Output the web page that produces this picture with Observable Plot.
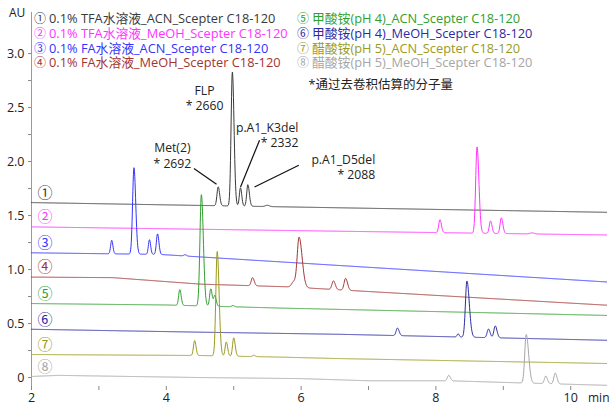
<!DOCTYPE html>
<html>
<head>
<meta charset="utf-8">
<script src="https://cdn.jsdelivr.net/npm/d3@7"></script>
<script src="https://cdn.jsdelivr.net/npm/@observablehq/plot@0.6"></script>
<style>
  html, body { margin: 0; padding: 0; background: #fff; }
  #wrap { position: relative; width: 611px; height: 408px; font-family: "Open Sans", "Noto Sans CJK SC", sans-serif; color: #222; }
  #wrap svg { position: absolute; left: 0; top: 0; }
  .lg { position: absolute; font-size: 12.8px; line-height: 14px; white-space: nowrap; }
  .lg .c { font-family: "Noto Sans CJK SC", sans-serif; font-size: 12px; line-height: 14px; margin-right: 3px; }
  .ax { position: absolute; font-size: 12px; line-height: 14px; white-space: nowrap; color: #222; }
</style>
</head>
<body>
<div id="wrap"></div>
<script>
// Eight UV chromatograms (AU vs. retention time, min), stacked with offsets.
const traceIds = [1, 2, 3, 4, 5, 6, 7, 8];
const traceMarks = ["①", "②", "③", "④", "⑤", "⑥", "⑦", "⑧"];
const traceNames = [
  "0.1% TFA水溶液_ACN_Scepter C18-120",
  "0.1% TFA水溶液_MeOH_Scepter C18-120",
  "0.1% FA水溶液_ACN_Scepter C18-120",
  "0.1% FA水溶液_MeOH_Scepter C18-120",
  "甲酸铵(pH 4)_ACN_Scepter C18-120",
  "甲酸铵(pH 4)_MeOH_Scepter C18-120",
  "醋酸铵(pH 5)_ACN_Scepter C18-120",
  "醋酸铵(pH 5)_MeOH_Scepter C18-120"
];
const traceColors = ["#3a3a3a", "#ff33ff", "#3333ff", "#a33333", "#2f9f2f", "#2b2ba3", "#9a9a1e", "#a6a6a6"];

// Baseline level (AU) at given retention times for each trace.
const baselineTimes = [
  [2, 10.53],
  [2, 10.53],
  [2, 3.9, 10.53],
  [2, 3.2, 4.5, 5.8, 6.9, 10.53],
  [2, 4.0, 5.7, 10.53],
  [2, 4.5, 6.6, 10.53],
  [2, 4.5, 5.7, 6.6, 10.53],
  [2, 2.4, 4.5, 6.0, 7.0, 8.2, 9.0, 10.53]
];
const baselineLevels = [
  [1.62, 1.53],
  [1.395, 1.32],
  [1.155, 1.14, 0.885],
  [0.93, 0.925, 0.865, 0.84, 0.80, 0.67],
  [0.685, 0.672, 0.643, 0.575],
  [0.447, 0.42, 0.40, 0.345],
  [0.213, 0.204, 0.189, 0.175, 0.13],
  [0.01, 0.02, 0.0, -0.01, -0.03, -0.03, -0.045, -0.072]
];

// Peak tables: retention time (min), height (AU), width (min), tailing factor.
const peakTimes = [
  [4.77, 4.98, 5.10, 5.21, 5.50],
  [8.06, 8.61, 8.81, 8.97, 9.43],
  [3.19, 3.52, 3.75, 3.87, 4.28],
  [5.28, 5.89, 5.97, 6.48, 6.66],
  [4.20, 4.52, 4.66, 4.72, 4.99],
  [7.43, 8.33, 8.46, 8.78, 8.88],
  [4.42, 4.755, 4.89, 5.00, 5.30],
  [8.19, 9.34, 9.63, 9.77]
];
const peakHeights = [
  [0.175, 1.24, 0.17, 0.20, 0.012],
  [0.12, 0.80, 0.115, 0.145, 0.01],
  [0.125, 0.80, 0.135, 0.19, 0.012],
  [0.075, 0.05, 0.465, 0.08, 0.11],
  [0.145, 1.03, 0.16, 0.10, 0.012],
  [0.07, 0.03, 0.52, 0.08, 0.11],
  [0.138, 0.967, 0.13, 0.17, 0.012],
  [0.05, 0.45, 0.07, 0.10]
];
const peakWidths = [
  [0.018, 0.019, 0.016, 0.017, 0.03],
  [0.018, 0.02, 0.018, 0.018, 0.03],
  [0.016, 0.02, 0.016, 0.017, 0.02],
  [0.02, 0.03, 0.028, 0.022, 0.022],
  [0.017, 0.021, 0.017, 0.017, 0.02],
  [0.02, 0.015, 0.022, 0.02, 0.02],
  [0.017, 0.02, 0.017, 0.017, 0.02],
  [0.02, 0.022, 0.02, 0.02]
];
const peakTailing = [
  [1.2, 1.3, 1.2, 1.3, 1],
  [1.2, 1.4, 1.2, 1.3, 1],
  [1.1, 1.3, 1.1, 1.2, 1],
  [1.2, 1, 1.6, 1.2, 1.3],
  [1.2, 1.4, 1.2, 1.2, 1],
  [1.2, 1, 1.6, 1.2, 1.3],
  [1.2, 1.4, 1.2, 1.3, 1],
  [1.2, 1.6, 1.2, 1.3]
];

// Peak annotations (molecular weight by deconvolution).
const annoText = ["Met(2)\n* 2692", "FLP\n* 2660", "p.A1_K3del\n* 2332", "p.A1_D5del\n* 2088"];
const annoX = [4.09, 4.567, 5.96, 7.10];
const annoY = [2.06, 2.59, 2.25, 1.952];
const annoAnchor = ["middle", "middle", "end", "end"];
const leaderX1 = [4.41, 5.383, 5.966];
const leaderY1 = [1.935, 2.197, 1.966];
const leaderX2 = [4.745, 5.101, 5.309];
const leaderY2 = [1.79, 1.765, 1.765];
const noteText = "*通过去卷积估算的分子量";

const tStart = 2, tEnd = 10.53, tStep = 0.004;

function baselineAt(i, t) {
  const ts = baselineTimes[i], vs = baselineLevels[i];
  for (let k = 0; k < ts.length - 1; k++) {
    if (t <= ts[k + 1]) {
      const f = (t - ts[k]) / (ts[k + 1] - ts[k]);
      return vs[k] + f * (vs[k + 1] - vs[k]);
    }
  }
  return vs[vs.length - 1];
}

function signalAt(i, t) {
  let v = baselineAt(i, t);
  peakTimes[i].forEach((rt, k) => {
    const s = t < rt ? peakWidths[i][k] : peakWidths[i][k] * peakTailing[i][k];
    v += peakHeights[i][k] * Math.exp(-0.5 * ((t - rt) / s) ** 2);
  });
  return v;
}

const rows = [];
traceIds.forEach((id, i) => {
  const n = Math.round((tEnd - tStart) / tStep);
  for (let j = 0; j <= n; j++) {
    const t = tStart + j * tStep;
    rows.push({trace: id, t, v: signalAt(i, t)});
  }
});

const traceLabels = traceIds.map((id, i) => ({mark: traceMarks[i], t: 2.2, v: baselineLevels[i][0], color: traceColors[i]}));
const annos = annoText.map((text, i) => ({text, x: annoX[i], y: annoY[i], anchor: annoAnchor[i]}));
const leaders = leaderX1.map((x1, i) => ({x1, y1: leaderY1[i], x2: leaderX2[i], y2: leaderY2[i]}));

const font = '"Open Sans", "Noto Sans CJK SC", sans-serif';

const chart = Plot.plot({
  width: 611,
  height: 408,
  marginLeft: 31,
  marginRight: 3.7,
  marginTop: 12,
  marginBottom: 22,
  x: {domain: [2, 10.55]},
  y: {domain: [-0.083, 3.38]},
  style: {fontFamily: font, fontSize: "12.5px", color: "#222", background: "transparent", overflow: "visible"},
  marks: [
    Plot.ruleX([2], {y1: -0.12, y2: 3.38, stroke: "#9a9a9a", strokeWidth: 1}),
    Plot.axisY({
      ticks: d3.range(0, 3.01, 0.25),
      tickFormat: d => (Math.abs(d * 2 - Math.round(d * 2)) < 1e-6 ? (d === 0 ? "0" : d.toFixed(1)) : ""),
      tickSize: 3, tickPadding: 4, label: null, stroke: "#888", fill: "#222"
    }),
    Plot.axisX({
      ticks: d3.range(2, 11),
      tickFormat: d => (d % 2 === 0 ? String(d) : ""),
      tickSize: 4, tickPadding: 3, label: null, stroke: "#888", fill: "#222"
    }),
    ...traceIds.map((id, i) => Plot.lineY(rows.filter(r => r.trace === id), {
      x: "t", y: "v", stroke: traceColors[i], strokeWidth: 1
    })),
    Plot.text(traceLabels, {
      x: "t", y: "v", text: "mark", fill: "color", dy: -9.5,
      fontSize: 15, fontFamily: '"Noto Sans CJK SC", sans-serif'
    }),
    Plot.link(leaders, {x1: "x1", y1: "y1", x2: "x2", y2: "y2", stroke: "#111", strokeWidth: 1.2}),
    ...["middle", "end"].map(anchor => Plot.text(annos.filter(a => a.anchor === anchor), {
      x: "x", y: "y", text: "text", textAnchor: anchor, fill: "#222",
      fontSize: 12.2, lineHeight: 1.25
    })),
    Plot.text([noteText], {x: 6.11, y: 2.706, textAnchor: "start", fill: "#222", fontSize: 12.5})
  ]
});

const wrap = document.getElementById("wrap");
wrap.appendChild(chart);

// Legend: two columns of four entries.
const legendLeft = [34, 297];
const legendTop = [18.3, 33.3, 47.7, 61.7];
traceIds.forEach((id, i) => {
  const col = Math.floor(i / 4), row = i % 4;
  const el = document.createElement("div");
  el.className = "lg";
  el.style.left = legendLeft[col] + "px";
  el.style.top = (legendTop[row] - 7) + "px";
  el.style.color = traceColors[i];
  el.innerHTML = `<span class="c">${traceMarks[i]}</span>${traceNames[i]}`;
  wrap.appendChild(el);
});

const au = document.createElement("div");
au.className = "ax";
au.style.left = "9px"; au.style.top = "6px";
au.textContent = "AU";
wrap.appendChild(au);

const mn = document.createElement("div");
mn.className = "ax";
mn.style.left = "588px"; mn.style.top = "391px";
mn.textContent = "min";
wrap.appendChild(mn);
</script>
</body>
</html>
